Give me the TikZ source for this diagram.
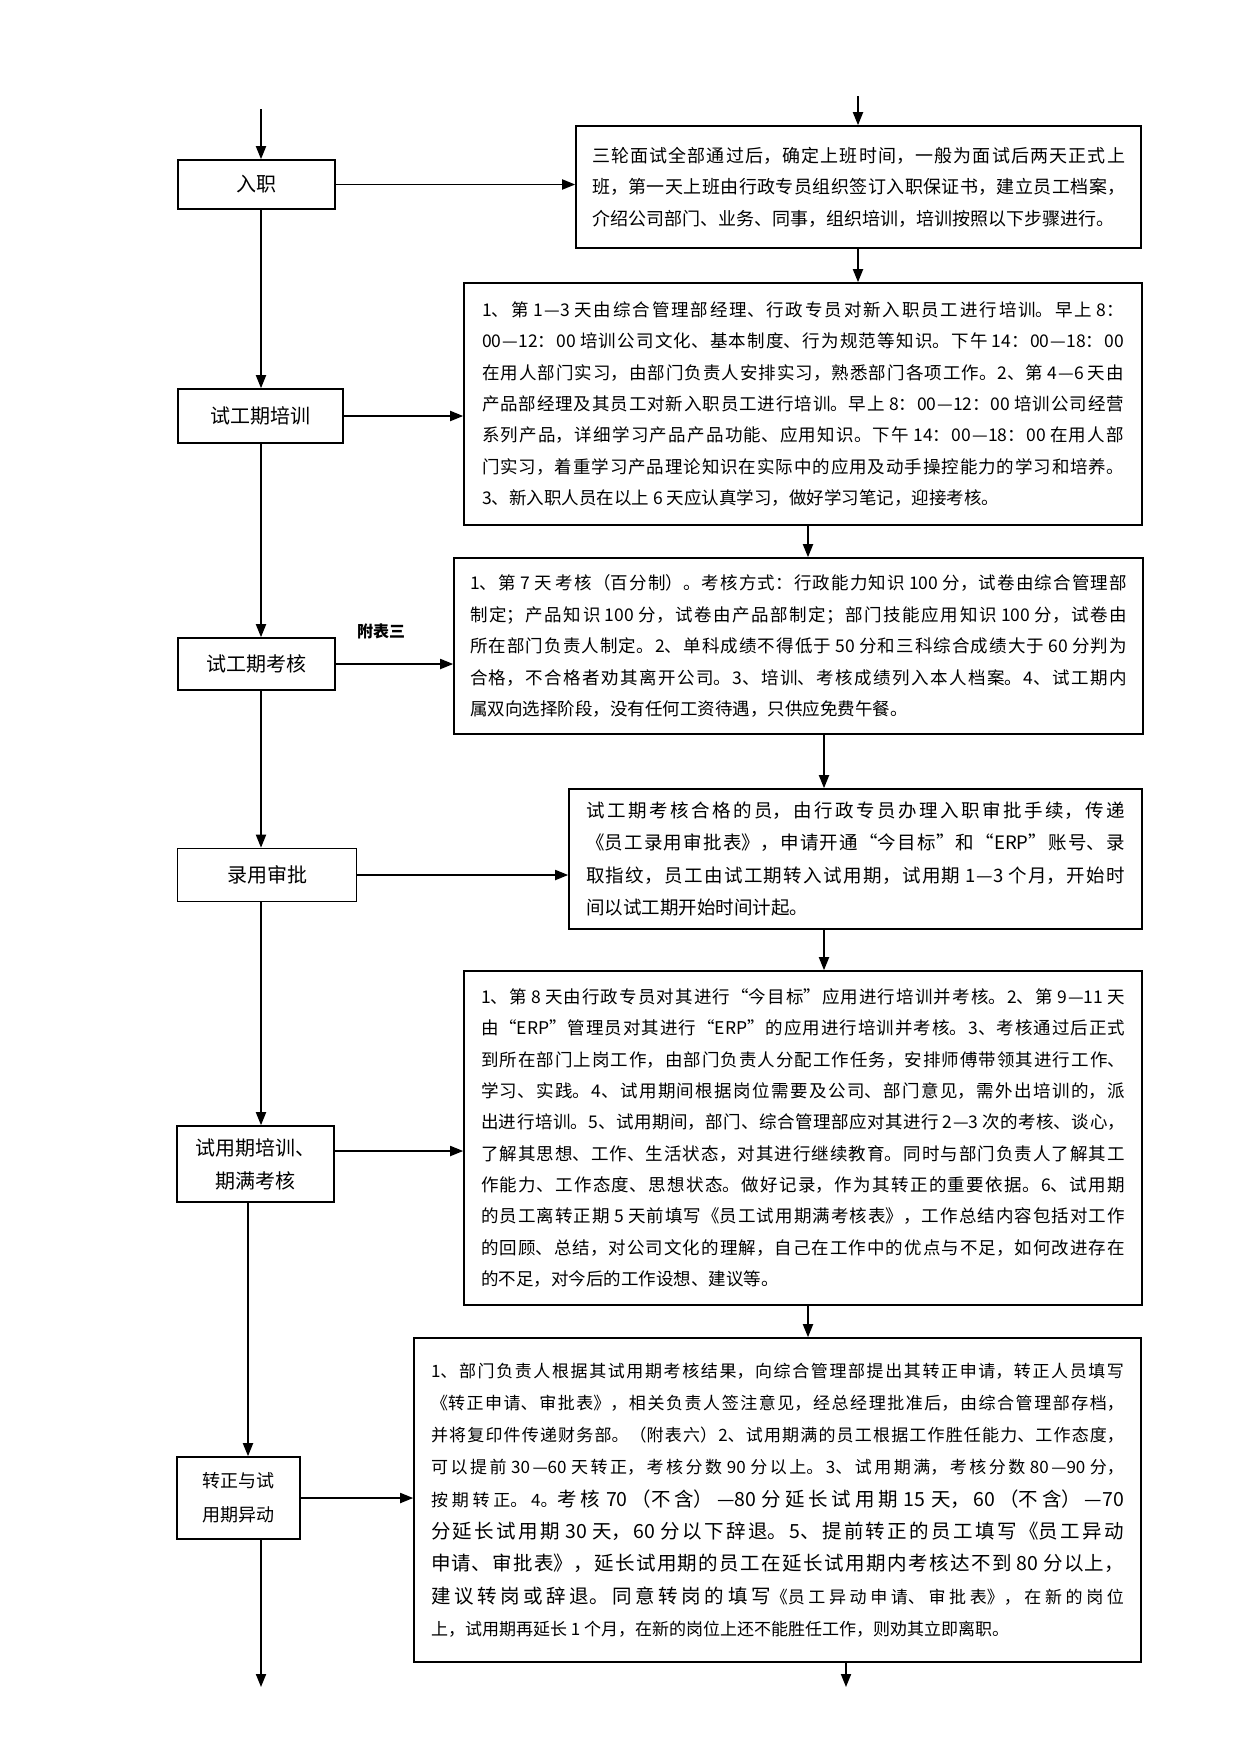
\documentclass[tikz,border=0pt]{standalone}
\usepackage{fontspec}
\setmainfont{Noto Sans CJK SC}
\usetikzlibrary{arrows.meta}
\XeTeXlinebreaklocale "zh"
\XeTeXlinebreakskip=0pt plus 6pt
\setlength{\parindent}{0pt}
\tolerance=10000

\tikzset{
  stage/.style={draw, line width=1.6pt, align=center, inner sep=0pt,
    font=\fontsize{20}{33}\selectfont},
  detail/.style={draw, line width=1.6pt, align=justify, inner xsep=16pt, inner ysep=0pt},
  flow/.style={line width=1.8pt, -{Triangle[length=13pt,width=10pt]}},
}

\begin{document}
\begin{tikzpicture}[x=1pt, y=-1pt]
  \fill[white] (0,0) rectangle (1241,1754);
  \useasboundingbox (0,0) rectangle (1241,1754);

  % left column
  \node[stage, minimum width=157pt, minimum height=49pt] (ruzhi) at (256.5,184.5) {入职};
  \node[stage, minimum width=165pt, minimum height=54pt] (peixun) at (260.5,416) {试工期培训};
  \node[stage, minimum width=157pt, minimum height=52pt] (kaohe) at (256.5,664) {试工期考核};
  \node[stage, minimum width=179pt, minimum height=53pt] (luyong) at (267,875) {录用审批};
  \node[stage, minimum width=157pt, minimum height=76pt] (shiyong) at (255.5,1164) {试用期培训、\\期满考核};
  \node[stage, minimum width=123pt, minimum height=82pt, font=\fontsize{18}{34}\selectfont] (zhuanzheng) at (238.5,1498) {转正与试\\用期异动};

  \node[font=\fontsize{16}{20}\selectfont\bfseries] (fubiao) at (381,631) {附表三};

  % right column
  \node[detail, text width=533pt, minimum height=122pt, font=\fontsize{18}{31.5}\selectfont] (box1) at (858.5,187) {%
三轮面试全部通过后，确定上班时间，一般为面试后两天正式上\linebreak
班，第一天上班由行政专员组织签订入职保证书，建立员工档案，\linebreak
介绍公司部门、业务、同事，组织培训，培训按照以下步骤进行。};

  \node[detail, text width=642pt, inner xsep=18pt, minimum height=242pt, font=\fontsize{17.5}{31.3}\selectfont] (box2) at (803,404) {%
1、第 1—3 天由综合管理部经理、行政专员对新入职员工进行培训。早上 8：\linebreak
00—12：00 培训公司文化、基本制度、行为规范等知识。下午 14：00—18：00\linebreak
在用人部门实习，由部门负责人安排实习，熟悉部门各项工作。2、第 4—6 天由\linebreak
产品部经理及其员工对新入职员工进行培训。早上 8：00—12：00 培训公司经营\linebreak
系列产品，详细学习产品产品功能、应用知识。下午 14：00—18：00 在用人部\linebreak
门实习，着重学习产品理论知识在实际中的应用及动手操控能力的学习和培养。\linebreak
3、新入职人员在以上 6 天应认真学习，做好学习笔记，迎接考核。};

  \node[detail, text width=657pt, minimum height=176pt, font=\fontsize{17.5}{31.5}\selectfont] (box3) at (798.5,646) {%
1、第 7 天 考核（百分制）。考核方式：行政能力知识 100 分，试卷由综合管理部\linebreak
制定；产品知识 100 分，试卷由产品部制定；部门技能应用知识 100 分，试卷由\linebreak
所在部门负责人制定。2、单科成绩不得低于 50 分和三科综合成绩大于 60 分判为\linebreak
合格，不合格者劝其离开公司。3、培训、考核成绩列入本人档案。4、试工期内\linebreak
属双向选择阶段，没有任何工资待遇，只供应免费午餐。};

  \node[detail, text width=539pt, inner xsep=17pt, minimum height=140pt, font=\fontsize{18.5}{32.5}\selectfont] (box4) at (855.5,859) {%
试工期考核合格的员，由行政专员办理入职审批手续，传递\linebreak
《员工录用审批表》，申请开通“今目标”和“ERP”账号、录\linebreak
取指纹，员工由试工期转入试用期，试用期 1—3 个月，开始时\linebreak
间以试工期开始时间计起。};

  \node[detail, text width=644pt, inner xsep=17pt, minimum height=334pt, font=\fontsize{17.5}{31.3}\selectfont] (box5) at (803,1138) {%
1、第 8 天由行政专员对其进行“今目标”应用进行培训并考核。2、第 9—11 天\linebreak
由“ERP”管理员对其进行“ERP”的应用进行培训并考核。3、考核通过后正式\linebreak
到所在部门上岗工作，由部门负责人分配工作任务，安排师傅带领其进行工作、\linebreak
学习、实践。4、试用期间根据岗位需要及公司、部门意见，需外出培训的，派\linebreak
出进行培训。5、试用期间，部门、综合管理部应对其进行 2—3 次的考核、谈心，\linebreak
了解其思想、工作、生活状态，对其进行继续教育。同时与部门负责人了解其工\linebreak
作能力、工作态度、思想状态。做好记录，作为其转正的重要依据。6、试用期\linebreak
的员工离转正期 5 天前填写《员工试用期满考核表》，工作总结内容包括对工作\linebreak
的回顾、总结，对公司文化的理解，自己在工作中的优点与不足，如何改进存在\linebreak
的不足，对今后的工作设想、建议等。};

  \node[detail, text width=693pt, inner xsep=17pt, minimum height=324pt, font=\fontsize{17}{32.3}\selectfont] (box6) at (777.5,1500) {%
1、部门负责人根据其试用期考核结果，向综合管理部提出其转正申请，转正人员填写\linebreak
《转正申请、审批表》，相关负责人签注意见，经总经理批准后，由综合管理部存档，\linebreak
并将复印件传递财务部。（附表六）2、试用期满的员工根据工作胜任能力、工作态度，\linebreak
可以提前 30—60 天转正，考核分数 90 分以上。3、试用期满，考核分数 80—90 分，\linebreak
按期转正。4。{\fontsize{19.5}{32.3}\selectfont 考核 70（不含）—80 分延长试用期 15 天，60（不含）—70\linebreak
分延长试用期 30 天，60 分以下辞退。5、提前转正的员工填写《员工异动\linebreak
申请、审批表》，延长试用期的员工在延长试用期内考核达不到 80 分以上，\linebreak
建议转岗或辞退。同意转岗的填写}《员工异动申请、审批表》，在新的岗位\linebreak
上，试用期再延长 1 个月，在新的岗位上还不能胜任工作，则劝其立即离职。};

  % connector positions
  \coordinate (col) at (261,0);
  \coordinate (col2) at (248,0);
  \coordinate (leftin) at (261,109);
  \coordinate (leftout) at (261,1687);
  \coordinate (rightin) at (858,96);
  \coordinate (rtop) at (858,0);
  \coordinate (rsec) at (808,0);
  \coordinate (rmid) at (824,0);
  \coordinate (rightout) at (846,1687);
  \coordinate (s5) at ([yshift=13pt]shiyong.east);

  % down the left column
  \draw[flow] (leftin) -- (ruzhi.north -| leftin);
  \draw[flow] (ruzhi.south -| col) -- (peixun.north -| col);
  \draw[flow] (peixun.south -| col) -- (kaohe.north -| col);
  \draw[flow] (kaohe.south -| col) -- (luyong.north -| col);
  \draw[flow] (luyong.south -| col) -- (shiyong.north -| col);
  \draw[flow] (shiyong.south -| col2) -- (zhuanzheng.north -| col2);
  \draw[flow] (zhuanzheng.south -| col) -- (leftout);

  % across
  \draw[flow] (ruzhi.east) -- (ruzhi.east -| box1.west);
  \draw[flow] (peixun.east) -- (peixun.east -| box2.west);
  \draw[flow] (kaohe.east) -- (kaohe.east -| box3.west);
  \draw[flow] (luyong.east) -- (luyong.east -| box4.west);
  \draw[flow] (s5) -- (s5 -| box5.west);
  \draw[flow] (zhuanzheng.east) -- (zhuanzheng.east -| box6.west);

  % down the right column
  \draw[flow] (rightin) -- (box1.north -| rightin);
  \draw[flow] (box1.south -| rtop) -- (box2.north -| rtop);
  \draw[flow] (box2.south -| rsec) -- (box3.north -| rsec);
  \draw[flow] (box3.south -| rmid) -- (box4.north -| rmid);
  \draw[flow] (box4.south -| rmid) -- (box5.north -| rmid);
  \draw[flow] (box5.south -| rsec) -- (box6.north -| rsec);
  \draw[flow] (box6.south -| rightout) -- (rightout);
\end{tikzpicture}
\end{document}
